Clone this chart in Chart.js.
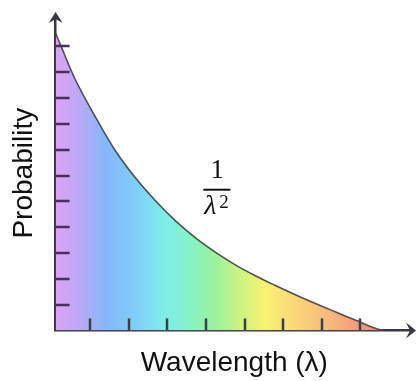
<!DOCTYPE html>
<html lang="en">
<head>
<meta charset="UTF-8">
<title>Probability vs wavelength</title>
<script src="https://cdn.jsdelivr.net/npm/chart.js"></script>
<style>
  html, body { margin: 0; padding: 0; background: #ffffff; }
  #wrap { width: 417px; height: 381px; position: relative; }
</style>
</head>
<body>
<div id="wrap"><canvas id="chart"></canvas></div>
<script>
// curve samples (arbitrary units)
const wavelength = [0, 0.13, 0.52, 1.04, 1.55, 2.07, 2.59, 3.11, 3.63, 4.15, 4.66, 5.18, 5.7, 6.22, 6.74, 7.25, 7.77, 8.29, 8.5];
const probability = [11.52, 11.05, 9.69, 8.25, 6.96, 5.91, 5.02, 4.24, 3.58, 3.02, 2.54, 2.12, 1.74, 1.38, 1.04, 0.72, 0.4, 0.08, 0];

// axis tick positions (no labels drawn)
const xTicks = [0.9, 1.9, 2.9, 3.9, 4.9, 5.9, 6.9, 7.9];
const yTicks = [1, 2, 3, 4, 5, 6, 7, 8, 9, 10, 11];
const xRange = [0, 9.27];
const yRange = [0, 12.18];

// rainbow stops across the plot width
const spectrum = [
  [0.00, '#dca4f2'],
  [0.06, '#c0a8f6'],
  [0.14, '#84b8f8'],
  [0.22, '#80ccf8'],
  [0.307, '#80eee8'],
  [0.37, '#84f2c8'],
  [0.447, '#9cf29c'],
  [0.52, '#d0f282'],
  [0.587, '#f8f272'],
  [0.66, '#f9da7a'],
  [0.79, '#f8b07c'],
  [0.885, '#f68c78'],
  [1.00, '#f07070']
];

const axisColor = '#3a3448';

function rainbow(context) {
  const chart = context.chart;
  const area = chart.chartArea;
  if (!area) return '#a0c8f8';
  const g = chart.ctx.createLinearGradient(area.left, 0, area.right, 0);
  spectrum.forEach(([t, c]) => g.addColorStop(t, c));
  return g;
}

const axisDecor = {
  id: 'axisDecor',
  afterDraw(chart) {
    const {ctx, chartArea: a, scales: {x, y}} = chart;
    ctx.save();

    // inward tick marks
    ctx.lineWidth = 2.5;
    ctx.strokeStyle = '#48305e';
    yTicks.forEach(v => {
      const py = Math.round(y.getPixelForValue(v));
      ctx.beginPath();
      ctx.moveTo(a.left, py);
      ctx.lineTo(a.left + 14, py);
      ctx.stroke();
    });
    ctx.strokeStyle = '#3a4048';
    xTicks.forEach(v => {
      const px = Math.round(x.getPixelForValue(v));
      ctx.beginPath();
      ctx.moveTo(px, a.bottom);
      ctx.lineTo(px, a.bottom - 12);
      ctx.stroke();
    });

    // arrow heads
    ctx.fillStyle = axisColor;
    const ox = x.getPixelForValue(xRange[0]);
    const oy = y.getPixelForValue(yRange[0]);
    ctx.beginPath();
    ctx.moveTo(ox, a.top - 4);
    ctx.lineTo(ox + 7, a.top + 7);
    ctx.lineTo(ox, a.top + 3);
    ctx.lineTo(ox - 7, a.top + 7);
    ctx.closePath();
    ctx.fill();
    ctx.beginPath();
    ctx.moveTo(a.right + 3, oy);
    ctx.lineTo(a.right - 7, oy - 8);
    ctx.lineTo(a.right - 3, oy);
    ctx.lineTo(a.right - 7, oy + 8);
    ctx.closePath();
    ctx.fill();

    // 1 / λ² label
    const lx = x.getPixelForValue(4.17);
    const ly = y.getPixelForValue(5.45);
    ctx.fillStyle = '#111111';
    ctx.textBaseline = 'alphabetic';
    ctx.textAlign = 'center';
    ctx.font = '27px "Liberation Serif", serif';
    ctx.fillText('1', lx + 1, ly - 12);
    ctx.fillRect(lx - 13, ly - 1, 27, 2);
    ctx.textAlign = 'left';
    ctx.font = 'italic 28px "Liberation Serif", serif';
    ctx.fillText('λ', lx - 12, ly + 24);
    ctx.font = '19px "Liberation Serif", serif';
    ctx.fillText('2', lx + 3, ly + 18);

    ctx.restore();
  }
};

new Chart(document.getElementById('chart'), {
  type: 'line',
  data: {
    datasets: [{
      data: wavelength.map((w, i) => ({x: w, y: probability[i]})),
      borderColor: '#505050',
      borderWidth: 1.6,
      backgroundColor: rainbow,
      fill: 'origin',
      pointRadius: 0,
      tension: 0.4
    }]
  },
  options: {
    responsive: true,
    maintainAspectRatio: false,
    animation: false,
    layout: { padding: { top: 16, right: 4, left: 0, bottom: 0 } },
    plugins: { legend: { display: false }, tooltip: { enabled: false } },
    scales: {
      x: {
        type: 'linear',
        min: xRange[0],
        max: xRange[1],
        z: 1,
        grid: { display: false, drawTicks: false },
        border: { display: true, color: axisColor, width: 2.5 },
        ticks: { display: false },
        title: {
          display: true,
          text: 'Wavelength (λ)',
          color: '#111111',
          font: { family: 'Arial, "Liberation Sans", sans-serif', size: 28 },
          padding: { top: 16, bottom: 1 }
        }
      },
      y: {
        type: 'linear',
        min: yRange[0],
        max: yRange[1],
        z: 1,
        grid: { display: false, drawTicks: false },
        border: { display: true, color: axisColor, width: 2.5 },
        ticks: { display: false },
        title: {
          display: true,
          text: 'Probability',
          color: '#111111',
          font: { family: 'Arial, "Liberation Sans", sans-serif', size: 28 },
          padding: { top: 7, bottom: 15 }
        }
      }
    }
  },
  plugins: [axisDecor]
});
</script>
</body>
</html>
